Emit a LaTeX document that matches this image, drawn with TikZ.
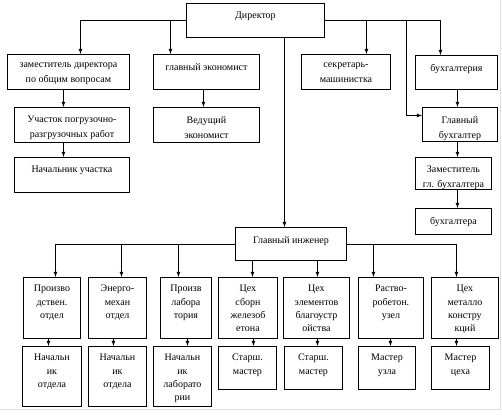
\documentclass[tikz,border=0pt]{standalone}
\usepackage{fontspec}
\setmainfont{Liberation Serif}
\usetikzlibrary{calc}

\begin{document}
\begin{tikzpicture}[x=1pt,y=-1pt,>=latex,
  box/.style={draw,line width=.9pt,anchor=north west,inner sep=0pt},
  txt/.style={anchor=north,yshift=-7pt,align=center,inner sep=1pt,
    font=\fontsize{10}{13.3}\selectfont},
  wtxt/.style={txt,yshift=-1pt,font=\fontsize{10}{15}\selectfont},
  arr/.style={->,line width=.8pt}]
\useasboundingbox (0,0) rectangle (502,415);
\draw[black!12,line width=1pt] (0,409.5)--(500.5,409.5)--(500.5,0);
% upper part
\node[box,minimum width=138,minimum height=34,label={[wtxt]north:Директор}] (dir) at (186,3) {};
\node[box,minimum width=122,minimum height=35,label={[wtxt]north:заместитель директора\\по общим вопросам}] (zam) at (7,54) {};
\node[box,minimum width=106,minimum height=35,label={[wtxt]north:главный экономист}] (econ) at (153,54) {};
\node[box,minimum width=89,minimum height=35,label={[wtxt]north:секретарь-\\машинистка}] (secr) at (301,54) {};
\node[box,minimum width=82,minimum height=34,label={[wtxt]north:бухгалтерия}] (buh) at (415,55) {};
\node[box,minimum width=115,minimum height=35,label={[wtxt]north:Участок погрузочно-\\разгрузочных работ}] (uch) at (14,107) {};
\node[box,minimum width=106,minimum height=35,label={[wtxt]north:Ведущий\\экономист}] (ved) at (153,107) {};
\node[box,minimum width=75,minimum height=34,label={[wtxt]north:Главный\\бухгалтер}] (glbuh) at (422,107) {};
\node[box,minimum width=115,minimum height=35,label={[wtxt]north:Начальник участка}] (nach) at (14,157) {};
\node[box,minimum width=76,minimum height=32,label={[wtxt]north:Заместитель\\гл. бухгалтера}] (zambuh) at (415,157) {};
\node[box,minimum width=76,minimum height=26,label={[wtxt]north:бухгалтера}] (buhg) at (415,208) {};
\node[box,minimum width=111,minimum height=33,label={[wtxt]north:Главный инженер}] (glinzh) at (235,227) {};
% departments
\node[box,minimum width=57,minimum height=61,label={[txt]north:Произво\\дствен.\\отдел}] (a1) at (23,277) {};
\node[box,minimum width=58,minimum height=61,label={[txt]north:Энерго-\\механ\\отдел}] (a2) at (88,277) {};
\node[box,minimum width=51,minimum height=61,label={[txt]north:Произв\\лабора\\тория}] (a3) at (160,277) {};
\node[box,minimum width=59,minimum height=61,label={[txt]north:Цех\\сборн\\железоб\\етона}] (a4) at (218,277) {};
\node[box,minimum width=66,minimum height=61,label={[txt]north:Цех\\элементов\\благоустр\\ойства}] (a5) at (283,277) {};
\node[box,minimum width=65,minimum height=61,label={[txt]north:Раство-\\робетон.\\узел}] (a6) at (358,277) {};
\node[box,minimum width=67,minimum height=61,label={[txt]north:Цех\\металло\\констру\\кций}] (a7) at (431,277) {};
% heads
\node[box,minimum width=59,minimum height=60,label={[txt]north:Начальн\\ик\\отдела}] (b1) at (22,346) {};
\node[box,minimum width=58,minimum height=60,label={[txt]north:Начальн\\ик\\отдела}] (b2) at (88,346) {};
\node[box,minimum width=58,minimum height=60,label={[txt]north:Начальн\\ик\\лаборато\\рии}] (b3) at (153,346) {};
\node[box,minimum width=58,minimum height=43,label={[txt]north:Старш.\\мастер}] (b4) at (218,346) {};
\node[box,minimum width=58,minimum height=43,label={[txt]north:Старш.\\мастер}] (b5) at (284,346) {};
\node[box,minimum width=57,minimum height=43,label={[txt]north:Мастер\\узла}] (b6) at (358,346) {};
\node[box,minimum width=58,minimum height=43,label={[txt]north:Мастер\\цеха}] (b7) at (431,346) {};
% connectors from director
\draw[arr] (dir.west) -| ([xshift=12pt]zam.north);
\draw[arr] ([xshift=-36pt]econ.north |- dir.west) -- ([xshift=-36pt]econ.north);
\draw[arr] (dir.east) -| ([xshift=-16pt]buh.north);
\draw[arr] ([xshift=20.5pt]secr.north |- dir.east) -- ([xshift=20.5pt]secr.north);
\coordinate (split) at (406,20);
\draw[arr] (split) |- ([yshift=9pt]glbuh.west);
\draw[arr] ([xshift=29pt]dir.south) -- ([xshift=29pt]dir.south |- glinzh.north);
\draw[arr] ([xshift=-5pt]zam.south) -- ([xshift=-5pt]zam.south |- uch.north);
\draw[arr] ([xshift=-8.5pt]uch.south) -- ([xshift=-8.5pt]uch.south |- nach.north);
\draw[arr] ([xshift=-3pt]econ.south) -- ([xshift=-3pt]econ.south |- ved.north);
\draw[arr] ([xshift=1pt]buh.south) -- ([xshift=1pt]buh.south |- glbuh.north);
\draw[arr] ([xshift=-2.5pt]glbuh.south) -- ([xshift=-2.5pt]glbuh.south |- zambuh.north);
\draw[arr] ([xshift=4pt]zambuh.south) -- ([xshift=4pt]zambuh.south |- buhg.north);
% connectors from chief engineer
\draw[arr] (glinzh.west) -| ([xshift=3.5pt]a1.north);
\draw[arr] ([xshift=4pt]a2.north |- glinzh.west) -- ([xshift=4pt]a2.north);
\draw[arr] ([xshift=-7.5pt]a3.north |- glinzh.west) -- ([xshift=-7.5pt]a3.north);
\draw[arr] ([xshift=4.5pt]a4.north |- glinzh.south) -- ([xshift=4.5pt]a4.north);
\draw[arr] ([xshift=1pt]a5.north |- glinzh.south) -- ([xshift=1pt]a5.north);
\draw[arr] (glinzh.east) -| ([xshift=-8.5pt]a7.north);
\draw[arr] ([xshift=-17.5pt]a6.north |- glinzh.east) -- ([xshift=-17.5pt]a6.north);
\foreach \i/\s in {1/-3.5,2/-4,3/1.5,4/5.5,5/1,6/-0.5,7/-8.5}
  \draw[arr] ([xshift=\s pt]a\i.south) -- ([xshift=\s pt]a\i.south |- b\i.north);
\end{tikzpicture}
\end{document}
